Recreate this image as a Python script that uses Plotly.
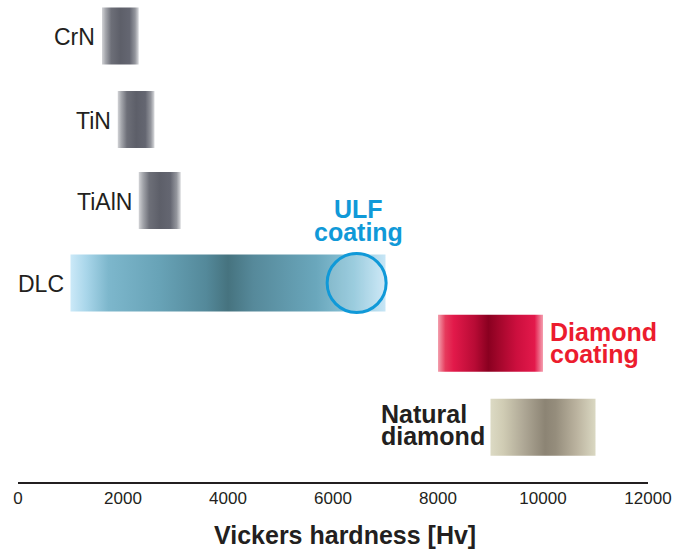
import plotly.graph_objects as go

# ---- data ----
materials = ["CrN", "TiN", "TiAlN", "DLC", "Diamond coating", "Natural diamond"]
hv_low = [1600, 1900, 2300, 1000, 8000, 9000]
hv_high = [2300, 2600, 3100, 7000, 10000, 11000]
ulf_hv = 6450
x_ticks = [0, 2000, 4000, 6000, 8000, 10000, 12000]
x_title = "Vickers hardness [Hv]"

# ---- layout (row centres in plot-pixel units, top = 0) ----
ROW_Y = [36, 119.5, 200.5, 283, 343.3, 427.3]
BAR_HALF = 28.5
PLOT_H = 482

GRAY = [[0, "#d2d3d6"], [0.1, "#a3a5ab"], [0.25, "#6d6f78"], [0.5, "#5d5f69"],
        [0.75, "#646671"], [0.9, "#93959c"], [1, "#dadbde"]]
SCALES = [
    GRAY, GRAY, GRAY,
    [[0, "#cbe9f8"], [0.05, "#a9d6ea"], [0.12, "#7db7cc"], [0.28, "#68a3b7"],
     [0.43, "#54899a"], [0.5, "#46737f"], [0.58, "#56899a"], [0.78, "#6aa7bc"],
     [0.9, "#8ec6da"], [1, "#c8e6f6"]],
    [[0, "#f3a0ae"], [0.07, "#e63a5c"], [0.15, "#e2194a"], [0.35, "#b80b35"],
     [0.48, "#8a0020"], [0.57, "#a0062a"], [0.75, "#cc0f3e"], [0.92, "#e3194b"],
     [1, "#f5a0b0"]],
    [[0, "#dcdac4"], [0.12, "#d0ccb4"], [0.32, "#aea795"], [0.52, "#8c8474"],
     [0.62, "#958d7c"], [0.82, "#bbb39f"], [1, "#dad8c2"]],
]

TXT = "#231f20"
BLUE = "#1099d8"
RED = "#ec1c2e"
FONT = "Liberation Sans, Arial, sans-serif"

fig = go.Figure()
for lo, hi, yc, cs, name in zip(hv_low, hv_high, ROW_Y, SCALES, materials):
    fig.add_trace(go.Scatter(
        x=[lo, hi, hi, lo, lo],
        y=[yc - BAR_HALF, yc - BAR_HALF, yc + BAR_HALF, yc + BAR_HALF, yc - BAR_HALF],
        mode="lines", line=dict(width=0), fill="toself",
        fillgradient=dict(type="horizontal", colorscale=cs),
        name=name, hoverinfo="name", showlegend=False,
    ))

annotations = []
for i in range(4):
    annotations.append(dict(
        x=hv_low[i], y=ROW_Y[i] + 1, xref="x", yref="y", text=materials[i],
        showarrow=False, xanchor="right", yanchor="middle", xshift=-5,
        font=dict(family=FONT, size=23, color=TXT)))

for txt, dy in [("Diamond", -11.5), ("coating", 11)]:
    annotations.append(dict(
        x=hv_high[4], y=ROW_Y[4] + dy, xref="x", yref="y", text="<b>%s</b>" % txt,
        showarrow=False, xanchor="left", yanchor="middle", xshift=5,
        font=dict(family=FONT, size=25, color=RED)))

for txt, dy in [("Natural", -13.5), ("diamond", 9)]:
    annotations.append(dict(
        x=hv_low[5], y=ROW_Y[5] + dy, xref="x", yref="y", text="<b>%s</b>" % txt,
        showarrow=False, xanchor="left", yanchor="middle", xshift=-112,
        font=dict(family=FONT, size=25, color=TXT)))

for txt, dy in [("ULF", -74), ("coating", -51.5)]:
    annotations.append(dict(
        x=ulf_hv, y=ROW_Y[3] + dy, xref="x", yref="y", text="<b>%s</b>" % txt,
        showarrow=False, xanchor="center", yanchor="middle", xshift=2,
        font=dict(family=FONT, size=25, color=BLUE)))

# x-axis title (offset to the right as in the reference)
annotations.append(dict(
    x=0.5186, y=-0.11, xref="paper", yref="paper", text="<b>%s</b>" % x_title,
    showarrow=False, xanchor="center", yanchor="middle",
    font=dict(family=FONT, size=25, color=TXT)))

shapes = [dict(
    type="circle", xref="x", yref="y", xsizemode="pixel", ysizemode="pixel",
    xanchor=ulf_hv, yanchor=ROW_Y[3], x0=-29.5, x1=29.5, y0=-29.5, y1=29.5,
    line=dict(color=BLUE, width=3), fillcolor="rgba(255,255,255,0.12)")]

fig.update_layout(
    width=687, height=551,
    margin=dict(l=17.5, r=39, t=0, b=551 - PLOT_H),
    plot_bgcolor="white", paper_bgcolor="white",
    annotations=annotations, shapes=shapes,
    xaxis=dict(
        range=[0, 12000], tickvals=x_ticks, ticktext=[str(v) for v in x_ticks],
        showgrid=False, zeroline=False, showline=True, linecolor=TXT, linewidth=2,
        ticks="", tickfont=dict(family=FONT, size=17, color=TXT),
        fixedrange=True,
    ),
    yaxis=dict(range=[PLOT_H, 0], visible=False, fixedrange=True),
)

fig.write_html("out.html", config={"displayModeBar": False},
               post_script="document.body.style.margin='0';")
